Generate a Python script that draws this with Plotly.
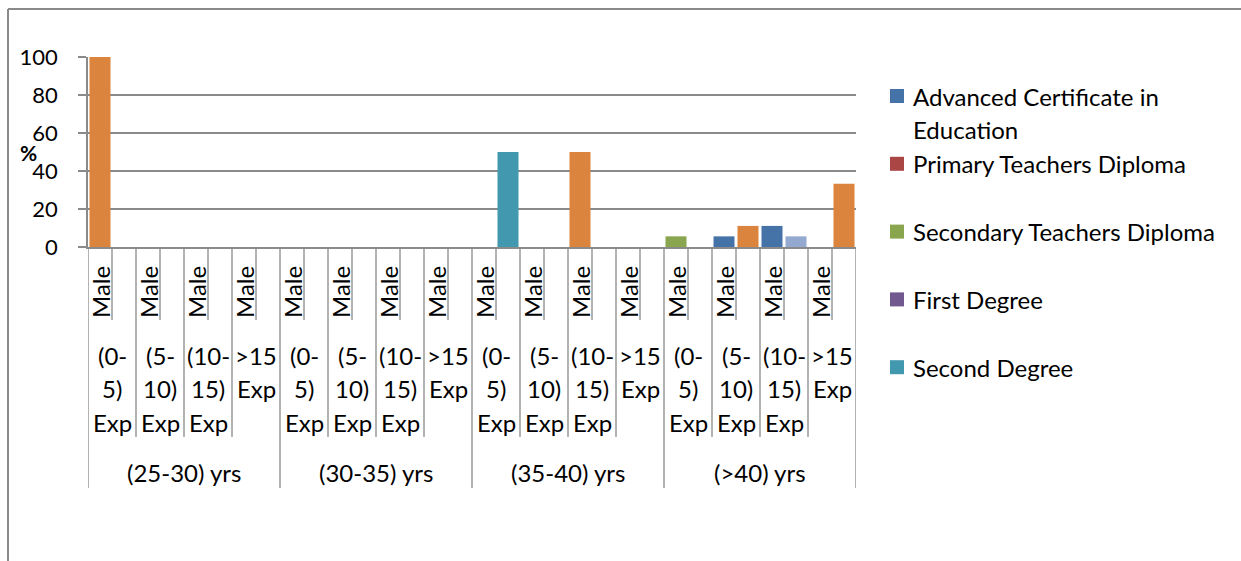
import textwrap
import plotly.graph_objects as go

# ---- data -------------------------------------------------------------
age_groups = ["(25-30) yrs", "(30-35) yrs", "(35-40) yrs", "(>40) yrs"]
exp_groups = ["(0-5) Exp", "(5-10) Exp", "(10-15) Exp", ">15 Exp"]
exp_lines = [["(0-", "5)", "Exp"], ["(5-", "10)", "Exp"], ["(10-", "15)", "Exp"], [">15", "Exp"]]
sex_slots = ["Male", ""]

series_names = [
    "Advanced Certificate in Education",
    "Primary Teachers Diploma",
    "Secondary Teachers Diploma",
    "First Degree",
    "Second Degree",
    "Other Qualification",
    "Not Stated",
]
series_colors = ["#4572A7", "#AA4643", "#89A54E", "#71588F", "#4198AF", "#DB843D", "#93A9CF"]
legend_count = 5  # entries listed in the legend box

N = None
# 32 slots per series: age group -> experience band -> (Male, blank)
ace_vals = [N, N, N, N, N, N, N, N,  N, N, N, N, N, N, N, N,
            N, N, N, N, N, N, N, N,  N, N, 5.6, N, 11.1, N, N, N]
ptd_vals = [N] * 32
std_vals = [N, N, N, N, N, N, N, N,  N, N, N, N, N, N, N, N,
            N, N, N, N, N, N, N, N,  5.6, N, N, N, N, N, N, N]
first_deg_vals = [N] * 32
second_deg_vals = [N, N, N, N, N, N, N, N,  N, N, N, N, N, N, N, N,
                   N, 50, N, N, N, N, N, N,  N, N, N, N, N, N, N, N]
other_vals = [100, N, N, N, N, N, N, N,  N, N, N, N, N, N, N, N,
              N, N, N, N, 50, N, N, N,  N, N, N, 11.1, N, N, N, 33.3]
not_stated_vals = [N, N, N, N, N, N, N, N,  N, N, N, N, N, N, N, N,
                   N, N, N, N, N, N, N, N,  N, N, N, N, N, 5.6, N, N]
series_values = [ace_vals, ptd_vals, std_vals, first_deg_vals,
                 second_deg_vals, other_vals, not_stated_vals]

y_ticks = [0, 20, 40, 60, 80, 100]

# ---- layout geometry (pixels) --------------------------------------
W, H = 1241, 561
PL, PR, PT, PB = 88, 856, 57, 247   # plot area edges
FONT = "Lato"
FS = 24        # category / legend text
FS_TICK = 22   # value-axis numbers
GRID = "#8a8a8a"
n_cat = len(age_groups) * len(exp_groups) * len(sex_slots)


def px_x(px):
    return (px - PL) / (PR - PL)


def px_y(py):
    return (PB - py) / (PB - PT)


def label(x, y, text, xref="x", xanchor="center", yanchor="middle", size=FS, **kw):
    return dict(x=x, y=y, xref=xref, yref="paper", text=text, showarrow=False,
                xanchor=xanchor, yanchor=yanchor,
                font=dict(family=FONT, size=size, color="black"), **kw)


fig = go.Figure()
x_idx = list(range(n_cat))
for name, color, vals in zip(series_names, series_colors, series_values):
    fig.add_trace(go.Bar(x=x_idx, y=vals, name=name, marker_color=color,
                         marker_line_width=0, showlegend=False))

shapes = []
annotations = []

# outer chart frame (top and left edges visible)
shapes.append(dict(type="line", xref="paper", yref="paper",
                   x0=px_x(8), x1=px_x(W + 10), y0=px_y(9), y1=px_y(9),
                   line=dict(color=GRID, width=2)))
shapes.append(dict(type="line", xref="paper", yref="paper",
                   x0=px_x(8), x1=px_x(8), y0=px_y(9), y1=px_y(H + 10),
                   line=dict(color=GRID, width=2)))

# category axis: three label rows separated by vertical rules
rows = [(PB, 320, 1), (320, 437, len(sex_slots)),
        (437, 488, len(sex_slots) * len(exp_groups))]
for top, bottom, step in rows:
    for k in range(0, n_cat + 1, step):
        shapes.append(dict(type="line", xref="x", yref="paper",
                           x0=k - 0.5, x1=k - 0.5, y0=px_y(top), y1=px_y(bottom),
                           line=dict(color=GRID, width=1.3)))

for a, age in enumerate(age_groups):
    base = a * len(exp_groups) * len(sex_slots)
    annotations.append(label(base + (len(exp_groups) * len(sex_slots) - 1) / 2,
                             px_y(473), age))
    for e, lines in enumerate(exp_lines):
        cbase = base + e * len(sex_slots)
        for li, line in enumerate(lines):
            annotations.append(label(cbase + 0.5, px_y(355 + 33.5 * li), line))
        for s, sex in enumerate(sex_slots):
            if sex:
                annotations.append(label(cbase + s, px_y(264), sex,
                                         yanchor="top", textangle=-90))

# value axis title
annotations.append(label(px_x(28), px_y(152), "<b>%</b>", xref="paper", size=21))

# legend box
for i in range(legend_count):
    cy = 96 + 67.8 * i
    shapes.append(dict(type="rect", xref="paper", yref="paper",
                       x0=px_x(890), x1=px_x(904), y0=px_y(cy - 7), y1=px_y(cy + 7),
                       fillcolor=series_colors[i], line_width=0))
    for li, line in enumerate(textwrap.wrap(series_names[i], 26)):
        annotations.append(label(px_x(911), px_y(cy + 33.5 * li), line,
                                 xref="paper", xanchor="left"))

fig.update_layout(
    width=W, height=H,
    margin=dict(l=PL, r=W - PR, t=PT, b=H - PB, pad=0),
    paper_bgcolor="white", plot_bgcolor="white",
    barmode="overlay", bargap=0.125,
    shapes=shapes, annotations=annotations,
    xaxis=dict(range=[-0.5, n_cat - 0.5], showticklabels=False, showgrid=False,
               zeroline=False, showline=True, linecolor=GRID, linewidth=1.5, ticks=""),
    yaxis=dict(range=[0, 100], tickvals=y_ticks, showgrid=True, gridcolor=GRID,
               gridwidth=1.5, zeroline=False, showline=True, linecolor=GRID,
               linewidth=1.5, ticks="outside", ticklen=8, tickcolor=GRID, tickwidth=1.5,
               ticklabelstandoff=16,
               tickfont=dict(family=FONT, size=FS_TICK, color="black")),
    font=dict(family=FONT, size=FS, color="black"),
)

fig.write_html("out.html", config={"displayModeBar": False})
